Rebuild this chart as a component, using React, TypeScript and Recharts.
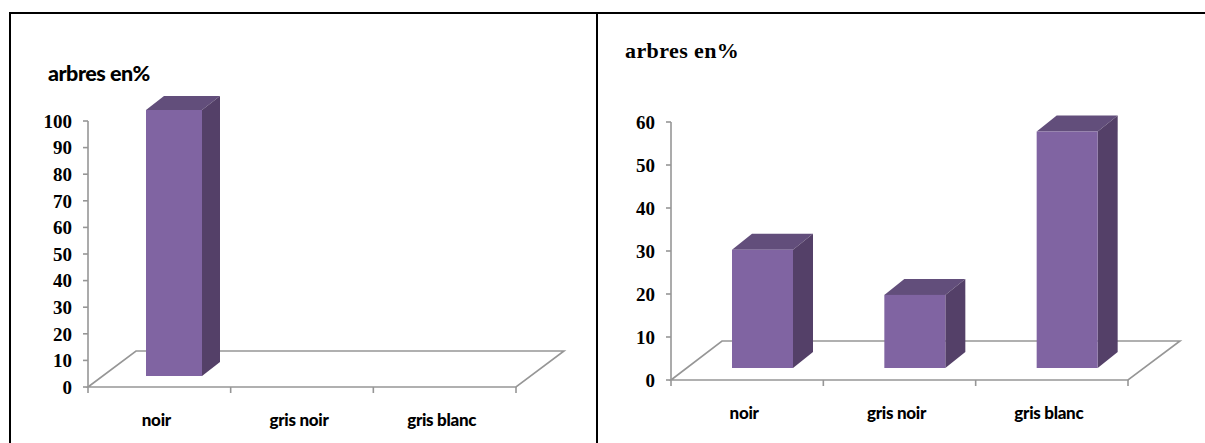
import { Bar, BarChart, XAxis, YAxis, usePlotArea } from "recharts";

const categories = ["noir", "gris noir", "gris blanc"];
const leftValues = [100, 0, 0];
const rightValues = [27.5, 17, 55];
const leftTicks = [0, 10, 20, 30, 40, 50, 60, 70, 80, 90, 100];
const rightTicks = [0, 10, 20, 30, 40, 50, 60];

const leftData = categories.map((name, i) => ({ name, value: leftValues[i] }));
const rightData = categories.map((name, i) => ({ name, value: rightValues[i] }));

const AXIS = "#969696";
const SANS = "Lato, 'Open Sans', sans-serif";
const SERIF = "'Liberation Serif', serif";

// floor of the 3D box plus the tick marks between categories
function Floor({ dx1, dx2, dy }: { dx1: number; dx2: number; dy: number }) {
    const plot = usePlotArea();
    if (!plot) return null;
    const left = plot.x;
    const right = plot.x + plot.width;
    const bottom = plot.y + plot.height;
    const band = plot.width / categories.length;
    const points = [
        [left, bottom],
        [left + dx1, bottom - dy],
        [right + dx2, bottom - dy],
        [right, bottom],
    ]
        .map((p) => p.join(","))
        .join(" ");
    return (
        <g>
            <polygon points={points} fill="#fff" stroke={AXIS} strokeWidth={1.6} />
            {[0, 1, 2, 3].map((i) => (
                <line
                    key={i}
                    x1={left + band * i}
                    x2={left + band * i}
                    y1={bottom}
                    y2={bottom + 6}
                    stroke={AXIS}
                    strokeWidth={1.6}
                />
            ))}
        </g>
    );
}

// extruded column: front face moved onto the floor, with top and side faces
function makeBox(shiftX: number, shiftY: number, depthX: number, depthY: number) {
    return function Box(props: any) {
        const { x, y, width, height } = props;
        if (!height || height <= 0) return <g />;
        const fx = x + shiftX;
        const fy = y - shiftY;
        const top = [
            [fx, fy],
            [fx + depthX, fy - depthY],
            [fx + width + depthX, fy - depthY],
            [fx + width, fy],
        ];
        const side = [
            [fx + width, fy],
            [fx + width + depthX, fy - depthY],
            [fx + width + depthX, fy + height - depthY],
            [fx + width, fy + height],
        ];
        return (
            <g>
                <polygon points={top.map((p) => p.join(",")).join(" ")} fill="#624e7b" />
                <polygon points={side.map((p) => p.join(",")).join(" ")} fill="#544068" />
                <rect x={fx} y={fy} width={width} height={height} fill="#8064a2" />
            </g>
        );
    };
}

// category label, pulled a little left of the band centre
function CategoryTick(props: any) {
    const { x, y, payload } = props;
    return (
        <text
            x={x - 3}
            y={y}
            textAnchor="middle"
            dominantBaseline="central"
            fill="#000"
            fontFamily={SANS}
            fontSize={17}
            fontWeight={900}
            letterSpacing={-0.3}
        >
            {payload.value}
        </text>
    );
}

function Panel(props: {
    left: number;
    width: number;
    data: { name: string; value: number }[];
    ticks: number[];
    max: number;
    axisWidth: number;
    marginTop: number;
    marginRight: number;
    axisHeight: number;
    barSize: number;
    shape: (p: any) => any;
    floor: { dx1: number; dx2: number; dy: number };
    title: { x: number; y: number; family: string; size: number; spacing: number };
    labelMargin: number;
}) {
    return (
        <div style={{ position: "absolute", left: props.left, top: 0 }}>
            <BarChart
                width={props.width}
                height={443}
                data={props.data}
                margin={{ top: props.marginTop, right: props.marginRight, bottom: 0, left: 0 }}
            >
                <Floor {...props.floor} />
                <XAxis
                    dataKey="name"
                    axisLine={false}
                    tickLine={false}
                    interval={0}
                    height={props.axisHeight}
                    tickMargin={props.labelMargin}
                    tick={<CategoryTick />}
                />
                <YAxis
                    width={props.axisWidth}
                    domain={[0, props.max]}
                    ticks={props.ticks}
                    interval={0}
                    stroke={AXIS}
                    strokeWidth={1.6}
                    tickSize={5}
                    tickMargin={11}
                    tick={{ fill: "#000", fontSize: 19, fontWeight: 700, fontFamily: SERIF }}
                />
                <Bar dataKey="value" barSize={props.barSize} shape={props.shape} isAnimationActive={false} />
                <text
                    x={props.title.x}
                    y={props.title.y}
                    fontFamily={props.title.family}
                    fontSize={props.title.size}
                    fontWeight={900}
                    letterSpacing={props.title.spacing}
                    fill="#000"
                >
                    arbres en%
                </text>
            </BarChart>
        </div>
    );
}

export default function App() {
    return (
        <div style={{ position: "absolute", left: 0, top: 0, width: 1205, height: 443, background: "#fff", overflow: "hidden" }}>
            <Panel
                left={0}
                width={597}
                data={leftData}
                ticks={leftTicks}
                max={100}
                axisWidth={88}
                marginTop={121}
                marginRight={81}
                axisHeight={56}
                barSize={56}
                shape={makeBox(15, 11, 18, 14)}
                floor={{ dx1: 48, dx2: 48, dy: 36 }}
                title={{ x: 48, y: 81, family: SANS, size: 21.5, spacing: -0.5 }}
                labelMargin={26}
            />
            <Panel
                left={598}
                width={607}
                data={rightData}
                ticks={rightTicks}
                max={60}
                axisWidth={73}
                marginTop={122}
                marginRight={77}
                axisHeight={63}
                barSize={61}
                shape={makeBox(15, 12, 20, 16)}
                floor={{ dx1: 51, dx2: 52, dy: 39 }}
                title={{ x: 27, y: 58, family: SERIF, size: 22, spacing: 0.4 }}
                labelMargin={26}
            />
            <div style={{ position: "absolute", left: 9, top: 12, width: 1196, height: 2, background: "#000" }} />
            <div style={{ position: "absolute", left: 9, top: 12, width: 2, height: 431, background: "#000" }} />
            <div style={{ position: "absolute", left: 596, top: 12, width: 2, height: 431, background: "#000" }} />
        </div>
    );
}
